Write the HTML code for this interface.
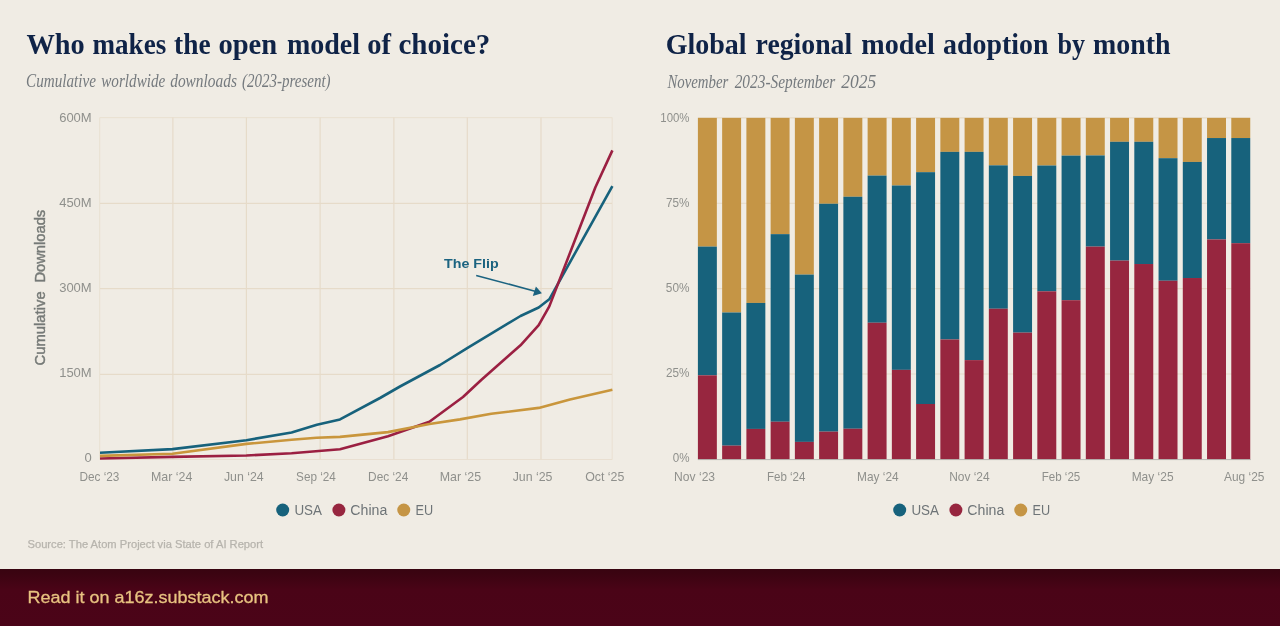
<!DOCTYPE html>
<html lang="en"><head><meta charset="utf-8"><title>Who makes the open model of choice?</title>
<style>html,body{margin:0;padding:0;background:#f0ece4;}body{width:1280px;height:626px;overflow:hidden;}svg{display:block;}text{font-family:"Liberation Sans", Arial, sans-serif;}text.serif{font-family:"Liberation Serif", "Times New Roman", serif;}</style>
</head><body>
<svg width="1280" height="626" viewBox="0 0 1280 626">
<defs><linearGradient id="fg" x1="0" y1="0" x2="0" y2="1"><stop offset="0" stop-color="#380410"/><stop offset="0.12" stop-color="#3d0412"/><stop offset="0.36" stop-color="#4a0417"/><stop offset="1" stop-color="#4b0418"/></linearGradient></defs>
<rect x="0" y="0" width="1280" height="626" fill="#f0ece4"/>
<text y="54" font-size="30" fill="#0f2347" class="serif" font-weight="bold"><tspan x="26.5" textLength="58.19" lengthAdjust="spacingAndGlyphs">Who</tspan> <tspan x="92.5" textLength="73.71" lengthAdjust="spacingAndGlyphs">makes</tspan> <tspan x="174.1" textLength="36.49" lengthAdjust="spacingAndGlyphs">the</tspan> <tspan x="218.45" textLength="58.75" lengthAdjust="spacingAndGlyphs">open</tspan> <tspan x="286.9" textLength="73.11" lengthAdjust="spacingAndGlyphs">model</tspan> <tspan x="367.15" textLength="23.79" lengthAdjust="spacingAndGlyphs">of</tspan> <tspan x="398.43" textLength="91.94" lengthAdjust="spacingAndGlyphs">choice?</tspan></text>
<text y="87.3" font-size="19" fill="#757a7e" class="serif" font-style="italic"><tspan x="26.1" textLength="69.84" lengthAdjust="spacingAndGlyphs">Cumulative</tspan> <tspan x="101.25" textLength="64.1" lengthAdjust="spacingAndGlyphs">worldwide</tspan> <tspan x="170.2" textLength="66.72" lengthAdjust="spacingAndGlyphs">downloads</tspan> <tspan x="242.0" textLength="88.56" lengthAdjust="spacingAndGlyphs">(2023-present)</tspan></text>
<text y="54" font-size="30" fill="#0f2347" class="serif" font-weight="bold"><tspan x="665.67" textLength="80.9" lengthAdjust="spacingAndGlyphs">Global</tspan> <tspan x="755.6" textLength="96.61" lengthAdjust="spacingAndGlyphs">regional</tspan> <tspan x="861.25" textLength="73.46" lengthAdjust="spacingAndGlyphs">model</tspan> <tspan x="943.0" textLength="105.46" lengthAdjust="spacingAndGlyphs">adoption</tspan> <tspan x="1057.5" textLength="27.5" lengthAdjust="spacingAndGlyphs">by</tspan> <tspan x="1093.1" textLength="77.51" lengthAdjust="spacingAndGlyphs">month</tspan></text>
<text y="87.8" font-size="19" fill="#757a7e" class="serif" font-style="italic"><tspan x="667.38" textLength="60.9" lengthAdjust="spacingAndGlyphs">November</tspan> <tspan x="734.7" textLength="100.61" lengthAdjust="spacingAndGlyphs">2023-September</tspan> <tspan x="841.25" textLength="35.01" lengthAdjust="spacingAndGlyphs">2025</tspan></text>
<g stroke="#e6dbc9" stroke-width="1.2" fill="none">
<line x1="172.9" y1="117.5" x2="172.9" y2="459.3"/>
<line x1="246.4" y1="117.5" x2="246.4" y2="459.3"/>
<line x1="320.1" y1="117.5" x2="320.1" y2="459.3"/>
<line x1="393.9" y1="117.5" x2="393.9" y2="459.3"/>
<line x1="467.3" y1="117.5" x2="467.3" y2="459.3"/>
<line x1="541.0" y1="117.5" x2="541.0" y2="459.3"/>
<line x1="100" y1="203.4" x2="612" y2="203.4"/>
<line x1="100" y1="288.7" x2="612" y2="288.7"/>
<line x1="100" y1="374.3" x2="612" y2="374.3"/>
</g>
<rect x="99.8" y="117.75" width="512.3" height="341.6" fill="none" stroke="#e6dbc9" stroke-width="0.7"/>
<text x="91.7" y="121.95" font-size="13" fill="#8f908c" text-anchor="end">600M</text>
<text x="91.7" y="206.9" font-size="13" fill="#8f908c" text-anchor="end">450M</text>
<text x="91.7" y="291.85" font-size="13" fill="#8f908c" text-anchor="end">300M</text>
<text x="91.7" y="376.8" font-size="13" fill="#8f908c" text-anchor="end">150M</text>
<text x="91.7" y="461.75" font-size="13" fill="#8f908c" text-anchor="end">0</text>
<text x="79.4" y="481" font-size="13" fill="#8f908c" textLength="40.0" lengthAdjust="spacingAndGlyphs">Dec ‘23</text>
<text x="150.9" y="481" font-size="13" fill="#8f908c" textLength="41.4" lengthAdjust="spacingAndGlyphs">Mar ‘24</text>
<text x="223.9" y="481" font-size="13" fill="#8f908c" textLength="39.8" lengthAdjust="spacingAndGlyphs">Jun ‘24</text>
<text x="296.1" y="481" font-size="13" fill="#8f908c" textLength="39.8" lengthAdjust="spacingAndGlyphs">Sep ‘24</text>
<text x="368.1" y="481" font-size="13" fill="#8f908c" textLength="40.2" lengthAdjust="spacingAndGlyphs">Dec ‘24</text>
<text x="439.7" y="481" font-size="13" fill="#8f908c" textLength="41.4" lengthAdjust="spacingAndGlyphs">Mar ‘25</text>
<text x="512.7" y="481" font-size="13" fill="#8f908c" textLength="39.8" lengthAdjust="spacingAndGlyphs">Jun ‘25</text>
<text x="585.2" y="481" font-size="13" fill="#8f908c" textLength="39.2" lengthAdjust="spacingAndGlyphs">Oct ‘25</text>
<text transform="translate(44.9,287.3) rotate(-90)" font-size="14.2" fill="#767a77" stroke="#767a77" stroke-width="0.45" xml:space="preserve"><tspan x="-78.2" textLength="74.19" lengthAdjust="spacingAndGlyphs">Cumulative</tspan>  <tspan x="4.76" textLength="72.73" lengthAdjust="spacingAndGlyphs">Downloads</tspan></text>
<polyline fill="none" stroke="#17627c" stroke-width="2.6" stroke-linejoin="round" stroke-linecap="butt" points="100,452.75 172.5,449.1 246.4,440.2 291.6,432.5 316.9,424.8 340,419.4 380,398 400,386.5 440,365 467.2,348.2 520.5,316 538.7,307.5 549.3,299.3 612.4,186.2"/>
<polyline fill="none" stroke="#9b2042" stroke-width="2.6" stroke-linejoin="round" stroke-linecap="butt" points="100,458.5 172.5,456.9 246.4,455.5 291.6,453.3 340,449.3 388,436.2 429.4,421.7 463,397 481.2,380 520.5,345.3 538.7,325.2 549.3,306.4 595.4,187.2 612.4,150.4"/>
<polyline fill="none" stroke="#c9963c" stroke-width="2.6" stroke-linejoin="round" stroke-linecap="butt" points="100,455.9 172.5,453.75 246.4,443.9 291.6,439.8 316.5,437.8 340,436.9 388,432.1 429.4,424.05 460,419.4 491.25,413.75 538.75,407.9 570,399.4 612.4,389.75"/>
<text x="444" y="268.4" font-size="13.5" fill="#1b6380" font-weight="bold" textLength="54.7" lengthAdjust="spacingAndGlyphs">The Flip</text>
<line x1="476.2" y1="275.4" x2="535" y2="291.2" stroke="#1b6380" stroke-width="1.6"/>
<polygon points="541.9,293.3 532.8,295.9 535.9,286.5" fill="#1b6380"/>
<circle cx="282.7" cy="510" r="6.5" fill="#17627c"/>
<text x="294.4" y="514.8" font-size="14" fill="#6e7477" textLength="27.6" lengthAdjust="spacingAndGlyphs">USA</text>
<circle cx="338.9" cy="510" r="6.5" fill="#97263f"/>
<text x="350.3" y="514.8" font-size="14" fill="#6e7477" textLength="37" lengthAdjust="spacingAndGlyphs">China</text>
<circle cx="403.75" cy="510" r="6.5" fill="#c59545"/>
<text x="415.5" y="514.8" font-size="14" fill="#6e7477" textLength="17.6" lengthAdjust="spacingAndGlyphs">EU</text>
<text x="27.5" y="547.9" font-size="10.4" fill="#b7b4ad" textLength="235.6" lengthAdjust="spacingAndGlyphs" stroke="#b7b4ad" stroke-width="0.25">Source: The Atom Project via State of AI Report</text>
<g stroke="#e6dbc9" stroke-width="1.1">
<line x1="697.9" y1="373.95" x2="1250.2" y2="373.95"/>
<line x1="697.9" y1="288.60" x2="1250.2" y2="288.60"/>
<line x1="697.9" y1="203.25" x2="1250.2" y2="203.25"/>
<line x1="697.9" y1="117.90" x2="1250.2" y2="117.90"/>
</g>
<rect x="697.90" y="117.90" width="18.95" height="128.71" fill="#c59545"/>
<rect x="697.90" y="246.61" width="18.95" height="128.71" fill="#17627c"/>
<rect x="697.90" y="375.32" width="18.95" height="83.98" fill="#97263f"/>
<rect x="722.14" y="117.90" width="18.95" height="194.60" fill="#c59545"/>
<rect x="722.14" y="312.50" width="18.95" height="133.15" fill="#17627c"/>
<rect x="722.14" y="445.64" width="18.95" height="13.66" fill="#97263f"/>
<rect x="746.39" y="117.90" width="18.95" height="185.04" fill="#c59545"/>
<rect x="746.39" y="302.94" width="18.95" height="125.98" fill="#17627c"/>
<rect x="746.39" y="428.92" width="18.95" height="30.38" fill="#97263f"/>
<rect x="770.63" y="117.90" width="18.95" height="116.25" fill="#c59545"/>
<rect x="770.63" y="234.15" width="18.95" height="187.60" fill="#17627c"/>
<rect x="770.63" y="421.75" width="18.95" height="37.55" fill="#97263f"/>
<rect x="794.88" y="117.90" width="18.95" height="156.70" fill="#c59545"/>
<rect x="794.88" y="274.60" width="18.95" height="167.29" fill="#17627c"/>
<rect x="794.88" y="441.89" width="18.95" height="17.41" fill="#97263f"/>
<rect x="819.12" y="117.90" width="18.95" height="85.86" fill="#c59545"/>
<rect x="819.12" y="203.76" width="18.95" height="227.88" fill="#17627c"/>
<rect x="819.12" y="431.65" width="18.95" height="27.65" fill="#97263f"/>
<rect x="843.37" y="117.90" width="18.95" height="78.86" fill="#c59545"/>
<rect x="843.37" y="196.76" width="18.95" height="231.98" fill="#17627c"/>
<rect x="843.37" y="428.74" width="18.95" height="30.56" fill="#97263f"/>
<rect x="867.62" y="117.90" width="18.95" height="57.70" fill="#c59545"/>
<rect x="867.62" y="175.60" width="18.95" height="147.14" fill="#17627c"/>
<rect x="867.62" y="322.74" width="18.95" height="136.56" fill="#97263f"/>
<rect x="891.86" y="117.90" width="18.95" height="67.60" fill="#c59545"/>
<rect x="891.86" y="185.50" width="18.95" height="184.36" fill="#17627c"/>
<rect x="891.86" y="369.85" width="18.95" height="89.45" fill="#97263f"/>
<rect x="916.11" y="117.90" width="18.95" height="54.28" fill="#c59545"/>
<rect x="916.11" y="172.18" width="18.95" height="231.81" fill="#17627c"/>
<rect x="916.11" y="403.99" width="18.95" height="55.31" fill="#97263f"/>
<rect x="940.35" y="117.90" width="18.95" height="33.97" fill="#c59545"/>
<rect x="940.35" y="151.87" width="18.95" height="187.60" fill="#17627c"/>
<rect x="940.35" y="339.47" width="18.95" height="119.83" fill="#97263f"/>
<rect x="964.60" y="117.90" width="18.95" height="33.97" fill="#c59545"/>
<rect x="964.60" y="151.87" width="18.95" height="208.25" fill="#17627c"/>
<rect x="964.60" y="360.12" width="18.95" height="99.18" fill="#97263f"/>
<rect x="988.84" y="117.90" width="18.95" height="47.45" fill="#c59545"/>
<rect x="988.84" y="165.35" width="18.95" height="143.39" fill="#17627c"/>
<rect x="988.84" y="308.74" width="18.95" height="150.56" fill="#97263f"/>
<rect x="1013.09" y="117.90" width="18.95" height="58.04" fill="#c59545"/>
<rect x="1013.09" y="175.94" width="18.95" height="156.70" fill="#17627c"/>
<rect x="1013.09" y="332.64" width="18.95" height="126.66" fill="#97263f"/>
<rect x="1037.33" y="117.90" width="18.95" height="47.63" fill="#c59545"/>
<rect x="1037.33" y="165.53" width="18.95" height="125.81" fill="#17627c"/>
<rect x="1037.33" y="291.33" width="18.95" height="167.97" fill="#97263f"/>
<rect x="1061.58" y="117.90" width="18.95" height="37.72" fill="#c59545"/>
<rect x="1061.58" y="155.62" width="18.95" height="144.58" fill="#17627c"/>
<rect x="1061.58" y="300.21" width="18.95" height="159.09" fill="#97263f"/>
<rect x="1085.82" y="117.90" width="18.95" height="37.55" fill="#c59545"/>
<rect x="1085.82" y="155.45" width="18.95" height="91.15" fill="#17627c"/>
<rect x="1085.82" y="246.61" width="18.95" height="212.69" fill="#97263f"/>
<rect x="1110.07" y="117.90" width="18.95" height="23.90" fill="#c59545"/>
<rect x="1110.07" y="141.80" width="18.95" height="118.81" fill="#17627c"/>
<rect x="1110.07" y="260.61" width="18.95" height="198.69" fill="#97263f"/>
<rect x="1134.31" y="117.90" width="18.95" height="23.90" fill="#c59545"/>
<rect x="1134.31" y="141.80" width="18.95" height="122.22" fill="#17627c"/>
<rect x="1134.31" y="264.02" width="18.95" height="195.28" fill="#97263f"/>
<rect x="1158.56" y="117.90" width="18.95" height="40.29" fill="#c59545"/>
<rect x="1158.56" y="158.19" width="18.95" height="122.56" fill="#17627c"/>
<rect x="1158.56" y="280.75" width="18.95" height="178.55" fill="#97263f"/>
<rect x="1182.80" y="117.90" width="18.95" height="44.04" fill="#c59545"/>
<rect x="1182.80" y="161.94" width="18.95" height="116.08" fill="#17627c"/>
<rect x="1182.80" y="278.02" width="18.95" height="181.28" fill="#97263f"/>
<rect x="1207.05" y="117.90" width="18.95" height="20.14" fill="#c59545"/>
<rect x="1207.05" y="138.04" width="18.95" height="101.40" fill="#17627c"/>
<rect x="1207.05" y="239.44" width="18.95" height="219.86" fill="#97263f"/>
<rect x="1231.29" y="117.90" width="18.95" height="20.14" fill="#c59545"/>
<rect x="1231.29" y="138.04" width="18.95" height="105.15" fill="#17627c"/>
<rect x="1231.29" y="243.19" width="18.95" height="216.11" fill="#97263f"/>
<line x1="697.9" y1="459.6" x2="1250.8" y2="459.6" stroke="#a7aaa6" stroke-width="0.8"/>
<text x="660.3" y="122.0" font-size="13" fill="#8f908c" textLength="29.2" lengthAdjust="spacingAndGlyphs">100%</text>
<text x="666.0" y="206.95" font-size="13" fill="#8f908c" textLength="23.5" lengthAdjust="spacingAndGlyphs">75%</text>
<text x="665.8" y="291.9" font-size="13" fill="#8f908c" textLength="23.7" lengthAdjust="spacingAndGlyphs">50%</text>
<text x="666.0" y="376.85" font-size="13" fill="#8f908c" textLength="23.5" lengthAdjust="spacingAndGlyphs">25%</text>
<text x="672.7" y="461.8" font-size="13" fill="#8f908c" textLength="16.8" lengthAdjust="spacingAndGlyphs">0%</text>
<text x="674.1" y="481" font-size="13" fill="#8f908c" textLength="41.0" lengthAdjust="spacingAndGlyphs">Nov ‘23</text>
<text x="766.95" y="481" font-size="13" fill="#8f908c" textLength="38.5" lengthAdjust="spacingAndGlyphs">Feb ‘24</text>
<text x="857.0" y="481" font-size="13" fill="#8f908c" textLength="41.6" lengthAdjust="spacingAndGlyphs">May ‘24</text>
<text x="949.15" y="481" font-size="13" fill="#8f908c" textLength="40.5" lengthAdjust="spacingAndGlyphs">Nov ‘24</text>
<text x="1041.7" y="481" font-size="13" fill="#8f908c" textLength="38.6" lengthAdjust="spacingAndGlyphs">Feb ‘25</text>
<text x="1131.65" y="481" font-size="13" fill="#8f908c" textLength="41.9" lengthAdjust="spacingAndGlyphs">May ‘25</text>
<text x="1224.0" y="481" font-size="13" fill="#8f908c" textLength="40.4" lengthAdjust="spacingAndGlyphs">Aug ‘25</text>
<circle cx="899.7" cy="510" r="6.5" fill="#17627c"/>
<text x="911.4" y="514.8" font-size="14" fill="#6e7477" textLength="27.6" lengthAdjust="spacingAndGlyphs">USA</text>
<circle cx="955.9" cy="510" r="6.5" fill="#97263f"/>
<text x="967.3" y="514.8" font-size="14" fill="#6e7477" textLength="37" lengthAdjust="spacingAndGlyphs">China</text>
<circle cx="1020.75" cy="510" r="6.5" fill="#c59545"/>
<text x="1032.5" y="514.8" font-size="14" fill="#6e7477" textLength="17.6" lengthAdjust="spacingAndGlyphs">EU</text>
<rect x="0" y="569" width="1280" height="57" fill="url(#fg)"/>
<text x="27.5" y="603.3" font-size="17.2" fill="#e8c380" textLength="241" lengthAdjust="spacingAndGlyphs" stroke="#e8c380" stroke-width="0.3">Read it on a16z.substack.com</text>
</svg>
</body></html>
